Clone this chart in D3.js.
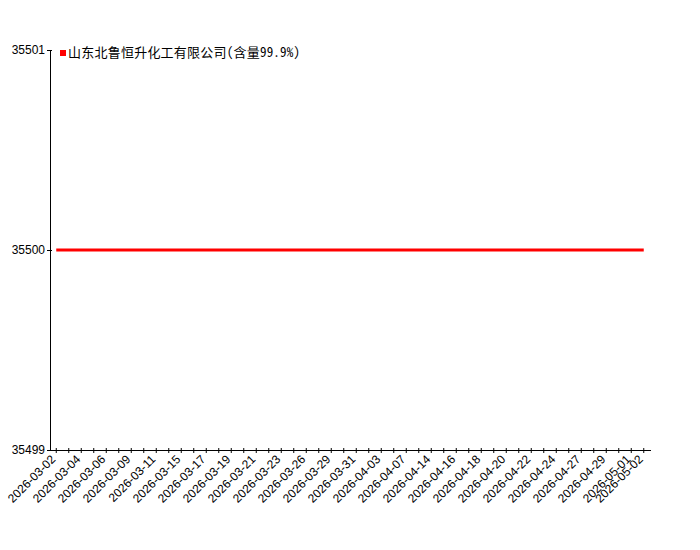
<!DOCTYPE html>
<html>
<head>
<meta charset="utf-8">
<script src="https://cdn.jsdelivr.net/npm/d3@7/dist/d3.min.js"></script>
<style>
body { margin:0; background:#fff; }
</style>
</head>
<body>
<div id="chart"></div>
<script>
var dates = ['2026-03-02','2026-03-03','2026-03-04','2026-03-05','2026-03-06','2026-03-07','2026-03-09','2026-03-10',
	'2026-03-11','2026-03-13','2026-03-15','2026-03-16','2026-03-17','2026-03-18','2026-03-19','2026-03-20',
	'2026-03-21','2026-03-22','2026-03-23','2026-03-24','2026-03-26','2026-03-27','2026-03-29','2026-03-30',
	'2026-03-31','2026-04-01','2026-04-03','2026-04-05','2026-04-07','2026-04-10','2026-04-14','2026-04-15',
	'2026-04-16','2026-04-17','2026-04-18','2026-04-19','2026-04-20','2026-04-21','2026-04-22','2026-04-23',
	'2026-04-24','2026-04-26','2026-04-27','2026-04-28','2026-04-29','2026-04-30','2026-05-01','2026-05-02'];
var prices = [35500,35500,35500,35500,35500,35500,35500,35500,35500,35500,35500,35500,
	35500,35500,35500,35500,35500,35500,35500,35500,35500,35500,35500,35500,
	35500,35500,35500,35500,35500,35500,35500,35500,35500,35500,35500,35500,
	35500,35500,35500,35500,35500,35500,35500,35500,35500,35500,35500,35500];
var yTicks = [35499,35500,35501];
var seriesName = '山东北鲁恒升化工有限公司(含量99.9%)';

var width = 700, height = 550;
var plotLeft = 50, plotRight = 650, plotTop = 50, plotBottom = 450;
var red = '#ff0000';

var svg = d3.select('#chart').append('svg')
	.attr('width', width)
	.attr('height', height);

var x = d3.scaleBand().domain(dates).range([plotLeft, plotRight]);
var y = d3.scaleLinear().domain([35499, 35501]).range([plotBottom, plotTop]);

// x axis: tick at every date, label every other one plus the last
var xAxis = d3.axisBottom(x)
	.tickSizeInner(0).tickSizeOuter(0)
	.tickFormat(function(d, i){ return (i % 2 == 0 || i == dates.length - 1) ? d : ''; });
var gx = svg.append('g')
	.attr('transform', 'translate(0,' + plotBottom + ')')
	.call(xAxis);
gx.select('.domain').attr('stroke', '#000').attr('d', 'M' + plotLeft + ',0.5H' + (plotRight + 1));
gx.selectAll('.tick line').attr('y1', -2).attr('y2', 3).attr('stroke', '#000');
gx.selectAll('.tick text')
	.attr('font-family', '"Liberation Sans", Arial, sans-serif')
	.attr('font-size', 12)
	.attr('fill', '#000')
	.attr('text-anchor', 'end')
	.attr('y', 0).attr('dy', 0)
	.attr('transform', 'translate(0,10) rotate(-45)');

// y axis
var yAxis = d3.axisLeft(y).tickValues(yTicks).tickSizeInner(0).tickSizeOuter(0).tickPadding(5).tickFormat(d3.format('d'));
var gy = svg.append('g')
	.attr('transform', 'translate(' + plotLeft + ',0)')
	.call(yAxis);
gy.select('.domain').attr('stroke', '#000').attr('d', 'M0.5,' + plotTop + 'V' + plotBottom);
gy.selectAll('.tick line').attr('x1', -3).attr('x2', 2).attr('stroke', '#000');
gy.selectAll('.tick text')
	.attr('font-family', '"Liberation Sans", Arial, sans-serif')
	.attr('font-size', 12)
	.attr('fill', '#000');

// series line
var line = d3.line()
	.x(function(d, i){ return x(dates[i]) + x.bandwidth() / 2; })
	.y(function(d){ return y(d); });
svg.append('path')
	.datum(prices)
	.attr('d', line)
	.attr('fill', 'none')
	.attr('stroke', red)
	.attr('stroke-width', 3);

// legend
svg.append('rect')
	.attr('x', 60).attr('y', 50)
	.attr('width', 6).attr('height', 6)
	.attr('fill', red);
svg.append('text')
	.attr('x', 68).attr('y', 57)
	.text(seriesName)
	.attr('font-family', '"Noto Sans Mono CJK SC", "Noto Sans CJK SC", sans-serif')
	.attr('font-size', 13)
	.attr('textLength', 232)
	.attr('lengthAdjust', 'spacing')
	.attr('fill', '#000');
</script>
</body>
</html>
